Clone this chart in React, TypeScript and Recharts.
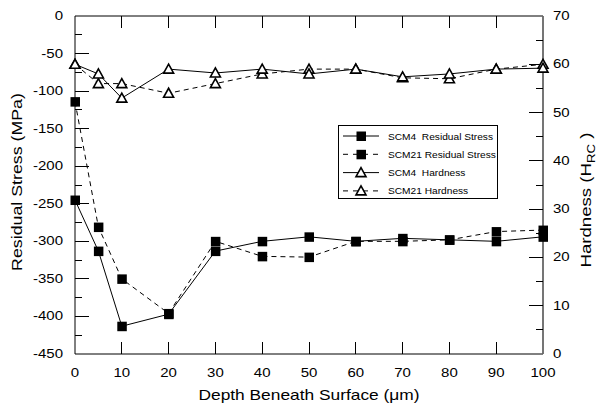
import React from "react";
import {
  ComposedChart,
  Line,
  XAxis,
  YAxis,
} from "recharts";

// depth beneath surface (um)
const depths = [0, 5, 10, 20, 30, 40, 50, 60, 70, 80, 90, 100];

// residual stress (MPa)
const scm4Stress = [-245, -313, -413, -397, -313, -300, -294, -300, -296, -298, -300, -294];
const scm21Stress = [-114, -281, -350, -396, -300, -320, -321, -300, -300, -298, -287, -285];

// hardness (HRC)
const scm4Hard = [60, 58, 53, 59, 58.2, 59, 58, 59, 57.4, 58, 59, 59.2];
const scm21Hard = [60, 56, 56, 54, 56, 58, 59, 59, 57.2, 57, 59, 60];

const xTicks = [0, 10, 20, 30, 40, 50, 60, 70, 80, 90, 100];
const stressLabels = [-450, -400, -350, -300, -250, -200, -150, -100, -50, 0];
const stressMarks = [-425, -400, -375, -350, -325, -300, -275, -250, -225, -200, -175, -150, -125, -100, -75, -50, -25];
const hardLabels = [0, 10, 20, 30, 40, 50, 60, 70];
const hardMarks = [5, 10, 15, 20, 25, 30, 35, 40, 45, 50, 55, 60, 65];

const data = depths.map((d, i) => ({
  x: d,
  scm4Stress: scm4Stress[i],
  scm21Stress: scm21Stress[i],
  scm4Hard: scm4Hard[i],
  scm21Hard: scm21Hard[i],
}));

const FONT = "Arial, 'Liberation Sans', sans-serif";

// the source figure uses a horizontally stretched sans font
function SText({ x, y, anchor = "start", size = 12, sx = 1.25, rotate = 0, children }: any) {
  return (
    <text
      transform={`translate(${x} ${y}) rotate(${rotate}) scale(${sx} 1)`}
      textAnchor={anchor}
      fontSize={size}
      fontFamily={FONT}
      fill="#000"
      style={{ whiteSpace: "pre" }}
    >
      {children}
    </text>
  );
}

function Square(props: any) {
  const { cx, cy } = props;
  if (cx == null || cy == null) return null;
  return <rect x={cx - 4.5} y={cy - 4.5} width={9.5} height={9.5} fill="#000" />;
}

function Triangle(props: any) {
  const { cx, cy } = props;
  if (cx == null || cy == null) return null;
  const s = 5;
  return (
    <polygon
      points={`${cx},${cy - s} ${cx - s},${cy + s - 1} ${cx + s},${cy + s - 1}`}
      fill="#fff"
      stroke="#000"
      strokeWidth={1.6}
    />
  );
}

// inward frame tick marks, drawn as the dots of invisible helper series
function XMark(props: any) {
  const { cx, cy, payload } = props;
  if (cx == null || cy == null || !payload) return <g />;
  const v = payload.x;
  if (v % 10 !== 0 || v === 0 || v === 100) return <g />;
  const px = Math.round(cx - 0.5);
  return (
    <g>
      <rect x={px} y={cy - 12} width={1} height={12} fill="#000" />
    </g>
  );
}

function XMarkTop(props: any) {
  const { cx, cy, payload } = props;
  if (cx == null || cy == null || !payload) return <g />;
  const v = payload.x;
  if (v % 10 !== 0 || v === 0 || v === 100) return <g />;
  const px = Math.round(cx - 0.5);
  return <rect x={px} y={cy} width={1} height={12} fill="#000" />;
}

function leftMark(len: number) {
  return (props: any) => {
    const { cx, cy } = props;
    if (cx == null || cy == null) return <g key={props.key} />;
    return <rect key={props.key} x={cx} y={Math.round(cy - 0.5)} width={len} height={1} fill="#000" />;
  };
}

function rightMark(len: number) {
  return (props: any) => {
    const { cx, cy } = props;
    if (cx == null || cy == null) return <g key={props.key} />;
    return <rect key={props.key} x={cx - len} y={Math.round(cy - 0.5)} width={len} height={1} fill="#000" />;
  };
}

function BottomLabel(props: any) {
  const { x, y, payload } = props;
  return (
    <SText x={Number(x)} y={Number(y) + 23} anchor="middle" size={12}>
      {String(payload.value)}
    </SText>
  );
}

function LeftLabel(props: any) {
  const { x, y, payload } = props;
  return (
    <SText x={Number(x) - 12} y={Number(y) + 4} anchor="end" size={12}>
      {String(payload.value)}
    </SText>
  );
}

function RightLabel(props: any) {
  const { x, y, payload } = props;
  return (
    <SText x={Number(x) + 10} y={Number(y) + 4} anchor="start" size={12}>
      {String(payload.value)}
    </SText>
  );
}

function LeftTitle() {
  return (
    <SText x={22} y={182} anchor="middle" size={14} sx={1.27} rotate={-90}>
      Residual Stress (MPa)
    </SText>
  );
}

function RightTitle() {
  return (
    <text
      transform="translate(591 200) rotate(-90) scale(1.33 1)"
      textAnchor="middle"
      fontSize={14}
      fontFamily={FONT}
      fill="#000"
      style={{ whiteSpace: "pre" }}
    >
      Hardness (H
      <tspan fontSize={10} dy={4}>RC</tspan>
      <tspan dy={-4}> )</tspan>
    </text>
  );
}

function BottomTitle() {
  return (
    <SText x={309} y={400} anchor="middle" size={14} sx={1.24}>
      Depth Beneath Surface (μm)
    </SText>
  );
}

const legendItems = [
  { label: "SCM4  Residual Stress", dashed: false, marker: "square" },
  { label: "SCM21 Residual Stress", dashed: true, marker: "square" },
  { label: "SCM4  Hardness", dashed: false, marker: "triangle" },
  { label: "SCM21 Hardness", dashed: true, marker: "triangle" },
];

function LegendBox() {
  return (
    <div
      style={{
        position: "absolute",
        left: 338,
        top: 125,
        border: "1px solid #000",
        background: "#fff",
        width: 158,
        height: 72,
      }}
    >
      <svg width={158} height={72} style={{ display: "block", overflow: "visible" }}>
        {legendItems.map((it, i) => {
          const y = 10 + i * 18.3;
          return (
            <g key={it.label}>
              <line
                x1={4}
                x2={40}
                y1={y}
                y2={y}
                stroke="#000"
                strokeDasharray={it.dashed ? "5 5" : undefined}
              />
              {it.marker === "square" ? <Square cx={22} cy={y} /> : <Triangle cx={22} cy={y} />}
              <SText x={49} y={y + 3.5} size={9} sx={1.13}>
                {it.label}
              </SText>
            </g>
          );
        })}
      </svg>
    </div>
  );
}

export default function App() {
  return (
    <div style={{ position: "absolute", left: 0, top: 0, width: 597, height: 406, background: "#fff" }}>
      <ComposedChart
        width={597}
        height={406}
        data={data}
        margin={{ top: 15, right: 14, bottom: 12, left: 15 }}
      >
        <XAxis
          xAxisId="bottom"
          dataKey="x"
          type="number"
          domain={[0, 100]}
          ticks={xTicks}
          interval={0}
          tickSize={0}
          tickMargin={0}
          tickLine={false}
          tick={<BottomLabel />}
          height={40}
          axisLine={{ stroke: "#000" }}
          label={<BottomTitle />}
        />
        <XAxis
          xAxisId="top"
          orientation="top"
          dataKey="x"
          type="number"
          domain={[0, 100]}
          ticks={xTicks}
          tick={false}
          tickLine={false}
          height={1}
          axisLine={{ stroke: "#000" }}
        />
        <YAxis
          yAxisId="stress"
          type="number"
          domain={[-450, 0]}
          ticks={stressLabels}
          interval={0}
          tickSize={0}
          tickMargin={0}
          tickLine={false}
          tick={<LeftLabel />}
          width={60}
          axisLine={{ stroke: "#000" }}
          label={<LeftTitle />}
        />
        <YAxis
          yAxisId="hard"
          orientation="right"
          type="number"
          domain={[0, 70]}
          ticks={hardLabels}
          interval={0}
          tickSize={0}
          tickMargin={0}
          tickLine={false}
          tick={<RightLabel />}
          width={40}
          axisLine={{ stroke: "#666", strokeWidth: 1.8 }}
          label={<RightTitle />}
        />

        {/* helper series: only their dots (the frame tick marks) are visible */}
        <Line
          xAxisId="bottom"
          yAxisId="stress"
          dataKey={() => -450}
          stroke="none"
          dot={<XMark />}
          activeDot={false}
          legendType="none"
          isAnimationActive={false}
        />
        <Line
          xAxisId="bottom"
          yAxisId="stress"
          dataKey={() => 0}
          stroke="none"
          dot={<XMarkTop />}
          activeDot={false}
          legendType="none"
          isAnimationActive={false}
        />
        {stressMarks.map((v) => (
          <Line
            key={`l${v}`}
            xAxisId="bottom"
            yAxisId="stress"
            dataKey={(r: any) => (r.x === 0 ? v : null)}
            stroke="none"
            dot={leftMark(v % 50 === 0 ? 14 : 7)}
            activeDot={false}
            legendType="none"
            isAnimationActive={false}
          />
        ))}
        {hardMarks.map((v) => (
          <Line
            key={`r${v}`}
            xAxisId="bottom"
            yAxisId="hard"
            dataKey={(r: any) => (r.x === 100 ? v : null)}
            stroke="none"
            dot={rightMark(v % 10 === 0 ? 14 : 7)}
            activeDot={false}
            legendType="none"
            isAnimationActive={false}
          />
        ))}

        <Line
          xAxisId="bottom"
          yAxisId="hard"
          type="linear"
          dataKey="scm21Hard"
          stroke="#000"
          strokeWidth={1}
          strokeDasharray="5 4"
          dot={<Triangle />}
          activeDot={false}
          isAnimationActive={false}
        />
        <Line
          xAxisId="bottom"
          yAxisId="hard"
          type="linear"
          dataKey="scm4Hard"
          stroke="#000"
          strokeWidth={1}
          dot={<Triangle />}
          activeDot={false}
          isAnimationActive={false}
        />
        <Line
          xAxisId="bottom"
          yAxisId="stress"
          type="linear"
          dataKey="scm21Stress"
          stroke="#000"
          strokeWidth={1}
          strokeDasharray="5 4"
          dot={<Square />}
          activeDot={false}
          isAnimationActive={false}
        />
        <Line
          xAxisId="bottom"
          yAxisId="stress"
          type="linear"
          dataKey="scm4Stress"
          stroke="#000"
          strokeWidth={1}
          dot={<Square />}
          activeDot={false}
          isAnimationActive={false}
        />
      </ComposedChart>
      <LegendBox />
    </div>
  );
}
